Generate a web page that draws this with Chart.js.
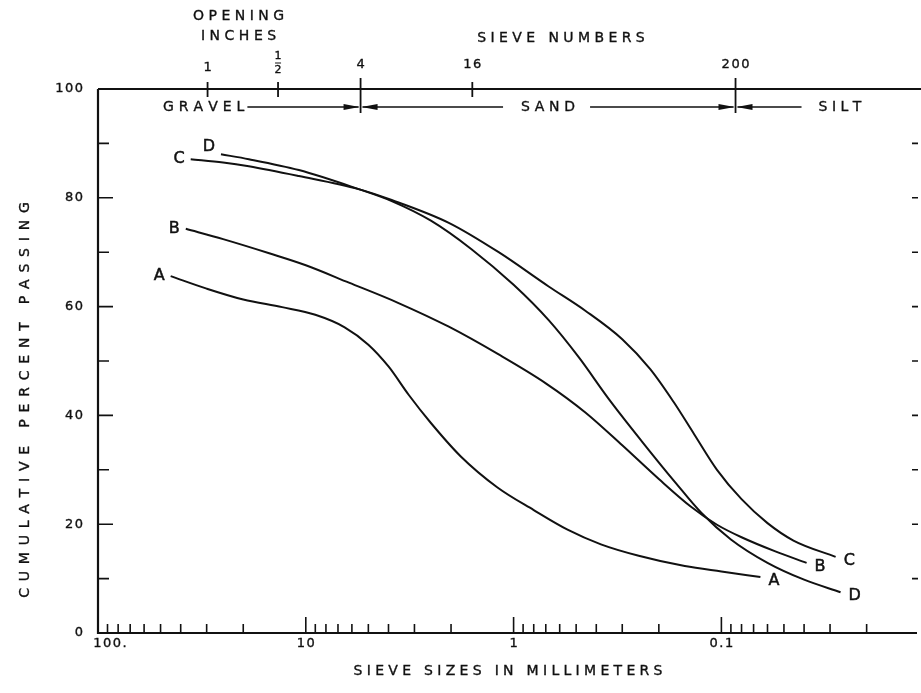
<!DOCTYPE html>
<html>
<head>
<meta charset="utf-8">
<script src="https://cdn.jsdelivr.net/npm/chart.js@4.4.1/dist/chart.umd.min.js"></script>
<style>
  html, body { margin: 0; padding: 0; background: #fff; }
  #wrap { width: 921px; height: 693px; }
</style>
</head>
<body>
<div id="wrap"><canvas id="grading" width="921" height="693"></canvas></div>
<script>
// ---------------- DATA ----------------
// sieve size in mm, cumulative percent passing
const sizesA = [44.7, 30, 20, 13, 9.0, 6.5, 5.0, 4.0, 3.2, 2.5, 1.8, 1.2, 0.8, 0.55, 0.38, 0.25, 0.15, 0.1, 0.0649];
const passA  = [65.6, 63.3, 61.3, 59.9, 58.5, 56.2, 53.0, 49.0, 43.8, 38.6, 32.5, 26.8, 22.6, 19.0, 16.3, 14.2, 12.3, 11.3, 10.3];

const sizesB = [37.8, 25, 15, 10, 6.2, 3.6, 2.05, 1.18, 0.70, 0.45, 0.30, 0.20, 0.14, 0.105, 0.08, 0.055, 0.0389];
const passB  = [74.3, 72.4, 69.8, 67.6, 64.4, 60.7, 56.3, 51.2, 45.9, 40.5, 34.5, 28.3, 23.2, 19.9, 17.6, 15.0, 12.9];

const sizesC = [35.8, 25, 18.8, 10.8, 5.57, 3.86, 2.05, 1.18, 0.678, 0.45, 0.30, 0.22, 0.17, 0.135, 0.105, 0.08, 0.06, 0.045, 0.0282];
const passC  = [87.1, 86.5, 85.8, 84.0, 81.6, 79.6, 75.4, 70.0, 63.7, 59.2, 54.0, 48.5, 42.5, 36.5, 30.0, 24.6, 20.2, 17.0, 14.0];

const sizesD = [25.6, 18.8, 10.8, 5.57, 3.86, 2.5, 1.6, 1.0, 0.678, 0.486, 0.348, 0.241, 0.166, 0.125, 0.09, 0.06, 0.04, 0.0267];
const passD  = [88.0, 87.1, 85.1, 81.6, 79.4, 75.8, 70.6, 64.0, 57.5, 50.7, 43.0, 35.2, 27.6, 22.1, 17.2, 12.9, 9.8, 7.5];

const curveNames = ["A", "B", "C", "D"];

// axis ticks
const sizeTicks = [100, 10, 1, 0.1];
const sizeTickLabels = ["100.", "10", "1", "0.1"];
const minorSteps = [2, 3, 4, 5, 6, 7, 8, 9];
const percentTicks = [0, 20, 40, 60, 80, 100];

// top scale: opening inches / sieve numbers (mm positions as drawn)
const openingLabels = ["1", "1/2"];
const openingSizes = [29.7, 13.6];
const sieveLabels = ["4", "16", "200"];
const sieveSizes = [5.45, 1.58, 0.0855];

// ---------------- HELPERS ----------------
function spacedText(ctx, str, x, y, gap, align) {
    const chars = [...str];
    const widths = chars.map(c => ctx.measureText(c).width);
    const total = widths.reduce((s, w) => s + w, 0) + gap * (chars.length - 1);
    let cx = align === "center" ? x - total / 2 : align === "right" ? x - total : x;
    ctx.textAlign = "left";
    chars.forEach((c, i) => {
        ctx.fillText(c, cx, y);
        ctx.strokeText(c, cx, y);   // a little extra weight, like pen lettering
        cx += widths[i] + gap;
    });
    return total;
}

function arrowHead(ctx, tipX, y, dir) {
    // dir = +1 points right, -1 points left
    ctx.beginPath();
    ctx.moveTo(tipX, y);
    ctx.lineTo(tipX - dir * 16, y - 3);
    ctx.lineTo(tipX - dir * 16, y + 3);
    ctx.closePath();
    ctx.fill();
}

const INK = "#111";
const FONT = "'DejaVu Sans', sans-serif";

// ---------------- FRAME PLUGIN ----------------
const framePlugin = {
    id: "frame",
    afterDraw(chart) {
        const { ctx, chartArea: a, scales: { x, y } } = chart;
        ctx.save();
        ctx.strokeStyle = INK;
        ctx.fillStyle = INK;
        ctx.lineCap = "butt";

        // box lines
        ctx.lineWidth = 2.2;
        ctx.beginPath();
        ctx.moveTo(a.left, a.top);
        ctx.lineTo(a.left, a.bottom);
        ctx.lineTo(a.right - 1, a.bottom);
        ctx.moveTo(a.left, a.top);
        ctx.lineTo(chart.width, a.top);
        ctx.stroke();

        // y ticks (left inward, right inward)
        ctx.lineWidth = 1.6;
        for (let p = 10; p < 100; p += 10) {
            const py = y.getPixelForValue(p);
            const len = p % 20 === 0 ? 15 : 11;
            ctx.beginPath();
            ctx.moveTo(a.left, py);
            ctx.lineTo(a.left + len, py);
            ctx.moveTo(a.right, py);
            ctx.lineTo(a.right - 6, py);
            ctx.stroke();
        }

        // x ticks on bottom axis
        sizeTicks.forEach(v => {
            const px = x.getPixelForValue(v);
            ctx.beginPath();
            ctx.moveTo(px, a.bottom);
            ctx.lineTo(px, a.bottom - 16);
            ctx.stroke();
            minorSteps.forEach(m => {
                const mv = (v / 10) * m;
                if (mv <= x.min) return;
                const mx = x.getPixelForValue(mv);
                ctx.beginPath();
                ctx.moveTo(mx, a.bottom);
                ctx.lineTo(mx, a.bottom - 9);
                ctx.stroke();
            });
        });

        // tick labels
        ctx.lineWidth = 0.35;
        ctx.textBaseline = "middle";
        ctx.font = "13px " + FONT;
        percentTicks.forEach(p => {
            spacedText(ctx, String(p), a.left - 15, y.getPixelForValue(p), 1.5, "right");
        });
        sizeTicks.forEach((v, i) => {
            const px = x.getPixelForValue(v);
            const dx = i === 0 ? 12 : 0;
            spacedText(ctx, sizeTickLabels[i], px + dx, a.bottom + 11, 1.5, "center");
        });

        // axis titles
        ctx.font = "14px " + FONT;
        spacedText(ctx, "SIEVE SIZES IN MILLIMETERS", (a.left + a.right) / 2, a.bottom + 38, 4.3, "center");
        ctx.save();
        ctx.translate(25, 400);
        ctx.rotate(-Math.PI / 2);
        spacedText(ctx, "CUMULATIVE PERCENT PASSING", 0, 0, 6.8, "center");
        ctx.restore();

        // top scale ticks
        ctx.lineWidth = 1.8;
        openingSizes.forEach(v => {
            const px = x.getPixelForValue(v);
            ctx.beginPath();
            ctx.moveTo(px, a.top - 7);
            ctx.lineTo(px, a.top + 8);
            ctx.stroke();
        });
        sieveSizes.forEach((v, i) => {
            const px = x.getPixelForValue(v);
            const long = sieveLabels[i] !== "16";
            ctx.beginPath();
            ctx.moveTo(px, a.top - (long ? 11 : 7));
            ctx.lineTo(px, a.top + (long ? 24 : 8));
            ctx.stroke();
        });

        // top labels
        ctx.lineWidth = 0.35;
        ctx.font = "13px " + FONT;
        openingSizes.forEach((v, i) => {
            const px = x.getPixelForValue(v);
            const lbl = openingLabels[i];
            if (lbl.includes("/")) {
                const [n, d] = lbl.split("/");
                ctx.font = "11px " + FONT;
                spacedText(ctx, n, px, a.top - 33, 0, "center");
                spacedText(ctx, d, px, a.top - 19, 0, "center");
                ctx.lineWidth = 1;
                ctx.beginPath();
                ctx.moveTo(px - 3, a.top - 26);
                ctx.lineTo(px + 3, a.top - 26);
                ctx.stroke();
                ctx.lineWidth = 0.35;
                ctx.font = "13px " + FONT;
            } else {
                spacedText(ctx, lbl, px, a.top - 21, 0, "center");
            }
        });
        sieveSizes.forEach((v, i) => {
            const px = x.getPixelForValue(v);
            spacedText(ctx, sieveLabels[i], px, a.top - 24, 1.5, "center");
        });

        ctx.font = "14px " + FONT;
        const midOpen = x.getPixelForValue(openingSizes[0]) + 31;
        spacedText(ctx, "OPENING", midOpen, 16, 4.5, "center");
        spacedText(ctx, "INCHES", midOpen, 36, 4.5, "center");
        spacedText(ctx, "SIEVE NUMBERS", 561, 38, 4.4, "center");

        // soil class bands
        const bandY = a.top + 18;
        const b1 = x.getPixelForValue(sieveSizes[0]);
        const b2 = x.getPixelForValue(sieveSizes[2]);
        const wG = spacedText(ctx, "GRAVEL", a.left + 65, bandY, 5, "left");
        spacedText(ctx, "SAND", (b1 + b2) / 2, bandY, 4.8, "center");
        spacedText(ctx, "SILT", b2 + 83, bandY, 4.5, "left");
        ctx.lineWidth = 1.6;
        ctx.beginPath();
        ctx.moveTo(a.left + 65 + wG + 3, bandY);
        ctx.lineTo(b1 - 2, bandY);
        ctx.moveTo(b1 + 2, bandY);
        ctx.lineTo((b1 + b2) / 2 - 45, bandY);
        ctx.moveTo((b1 + b2) / 2 + 42, bandY);
        ctx.lineTo(b2 - 2, bandY);
        ctx.moveTo(b2 + 2, bandY);
        ctx.lineTo(b2 + 66, bandY);
        ctx.stroke();
        arrowHead(ctx, b1 - 1, bandY, 1);
        arrowHead(ctx, b1 + 1, bandY, -1);
        arrowHead(ctx, b2 - 1, bandY, 1);
        arrowHead(ctx, b2 + 1, bandY, -1);

        // curve letters at both ends
        ctx.lineWidth = 0.5;
        ctx.font = "16px " + FONT;
        chart.data.datasets.forEach(ds => {
            const first = ds.data[0];
            const last = ds.data[ds.data.length - 1];
            const fx = x.getPixelForValue(first.x);
            const fy = y.getPixelForValue(first.y);
            const lx = x.getPixelForValue(last.x);
            const ly = y.getPixelForValue(last.y);
            const upLeft = ds.label === "D" ? -7 : 0;
            spacedText(ctx, ds.label, fx - 6, fy + upLeft, 0, "right");
            spacedText(ctx, ds.label, lx + 8, ly + 4, 0, "left");
        });

        ctx.restore();
    }
};

// ---------------- CHART ----------------
const seriesSizes = [sizesA, sizesB, sizesC, sizesD];
const seriesPass = [passA, passB, passC, passD];

new Chart(document.getElementById("grading"), {
    type: "line",
    data: {
        datasets: curveNames.map((name, k) => ({
            label: name,
            data: seriesSizes[k].map((s, i) => ({ x: s, y: seriesPass[k][i] })),
            borderColor: INK,
            borderWidth: 2,
            pointRadius: 0,
            fill: false,
            cubicInterpolationMode: "monotone",
        })),
    },
    options: {
        responsive: false,
        animation: false,
        layout: { padding: { left: 98, top: 89, right: 3, bottom: 60 } },
        plugins: { legend: { display: false }, tooltip: { enabled: false } },
        scales: {
            x: { type: "logarithmic", reverse: true, min: 0.01132, max: 100, display: false },
            y: { type: "linear", min: 0, max: 100, display: false },
        },
    },
    plugins: [framePlugin],
});
</script>
</body>
</html>
